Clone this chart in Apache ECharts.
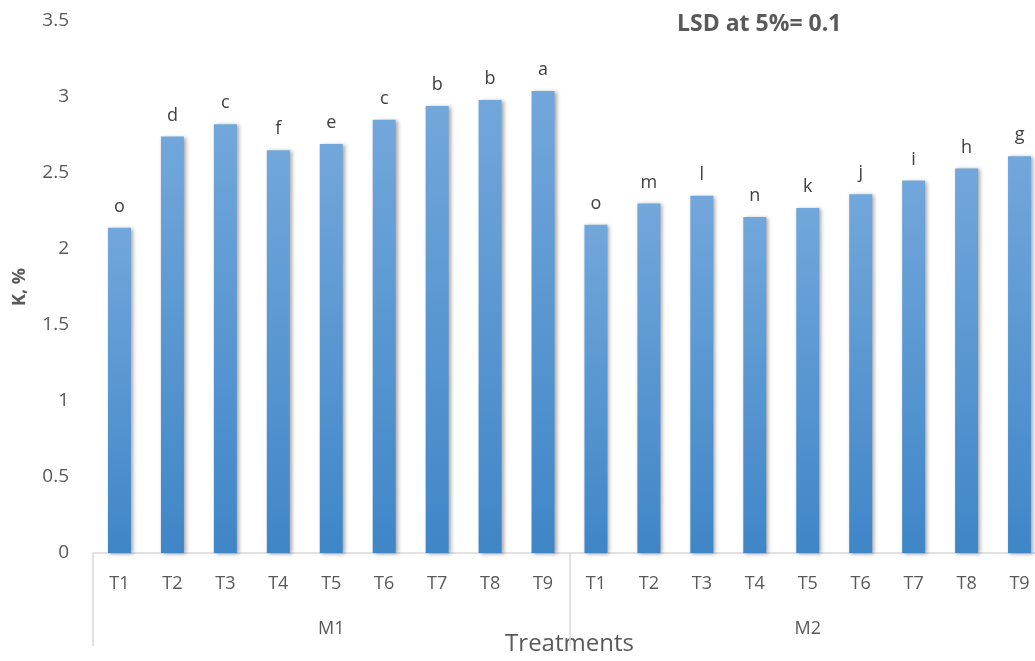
<!DOCTYPE html>
<html>
<head>
<meta charset="utf-8">
<script src="https://cdn.jsdelivr.net/npm/echarts@6/dist/echarts.min.js"></script>
<style>
html,body{margin:0;padding:0;background:#fff;overflow:hidden;}
#wrap{position:relative;width:1035px;height:661px;overflow:hidden;}
#main{position:absolute;left:0;top:0;width:1046px;height:661px;}
</style>
</head>
<body>
<div id="wrap"><div id="main"></div></div>
<script>
const treatments = ['T1','T2','T3','T4','T5','T6','T7','T8','T9','T1','T2','T3','T4','T5','T6','T7','T8','T9'];
const groups = ['M1','M2'];
const kValues = [2.14,2.74,2.82,2.65,2.69,2.85,2.94,2.98,3.04, 2.16,2.30,2.35,2.21,2.27,2.36,2.45,2.53,2.61];
const letters = ['o','d','c','f','e','c','b','b','a', 'o','m','l','n','k','j','i','h','g'];
const yTicks = {min:0, max:3.5, interval:0.5};

const FONT = '"Open Sans", "Noto Sans", sans-serif';
const GREY = '#595959';

const chart = echarts.init(document.getElementById('main'), null, {renderer:'canvas'});
chart.setOption({
  animation:false,
  backgroundColor:'#ffffff',
  graphic:[{
    type:'text',
    left:677, top:13,
    style:{
      text:'LSD at 5%= 0.1',
      font:'bold 23px "Open Sans", "Noto Sans", sans-serif',
      fill:GREY
    }
  }],
  grid:{left:93, right:0, top:21, bottom:103, containLabel:false},
  xAxis:[
    {
      type:'category',
      data:treatments,
      position:'bottom',
      axisLine:{show:true, lineStyle:{color:'#d9d9d9', width:1.5}},
      axisTick:{show:false},
      axisLabel:{color:GREY, fontFamily:FONT, fontSize:18, margin:22, interval:0},
      name:'Treatments',
      nameLocation:'middle',
      nameGap:79,
      nameTextStyle:{color:GREY, fontFamily:FONT, fontSize:24}
    },
    {
      type:'category',
      data:groups,
      position:'bottom',
      axisLine:{show:false},
      axisTick:{show:true, length:93, lineStyle:{color:'#d9d9d9', width:1.5}},
      axisLabel:{color:GREY, fontFamily:FONT, fontSize:18, margin:67},
      splitLine:{show:false}
    }
  ],
  yAxis:{
    type:'value',
    min:yTicks.min, max:yTicks.max, interval:yTicks.interval,
    axisLine:{show:false},
    axisTick:{show:false},
    splitLine:{show:false},
    axisLabel:{color:GREY, fontFamily:FONT, fontSize:19, margin:24},
    name:'K, %',
    nameLocation:'middle',
    nameGap:64,
    nameTextStyle:{color:GREY, fontFamily:FONT, fontSize:18, fontWeight:'bold'}
  },
  series:[{
    type:'bar',
    xAxisIndex:0,
    data:kValues,
    barWidth:23,
    itemStyle:{
      color:new echarts.graphic.LinearGradient(0,0,0,1,[
        {offset:0, color:'#72a7db'},
        {offset:1, color:'#3f86c7'}
      ]),
      shadowColor:'rgba(0,0,0,0.35)',
      shadowBlur:4,
      shadowOffsetX:2,
      shadowOffsetY:1
    },
    label:{
      show:true,
      position:'top',
      distance:12,
      formatter:function(p){return letters[p.dataIndex];},
      color:'#404040',
      fontFamily:FONT,
      fontSize:18
    }
  }]
});
</script>
</body>
</html>
